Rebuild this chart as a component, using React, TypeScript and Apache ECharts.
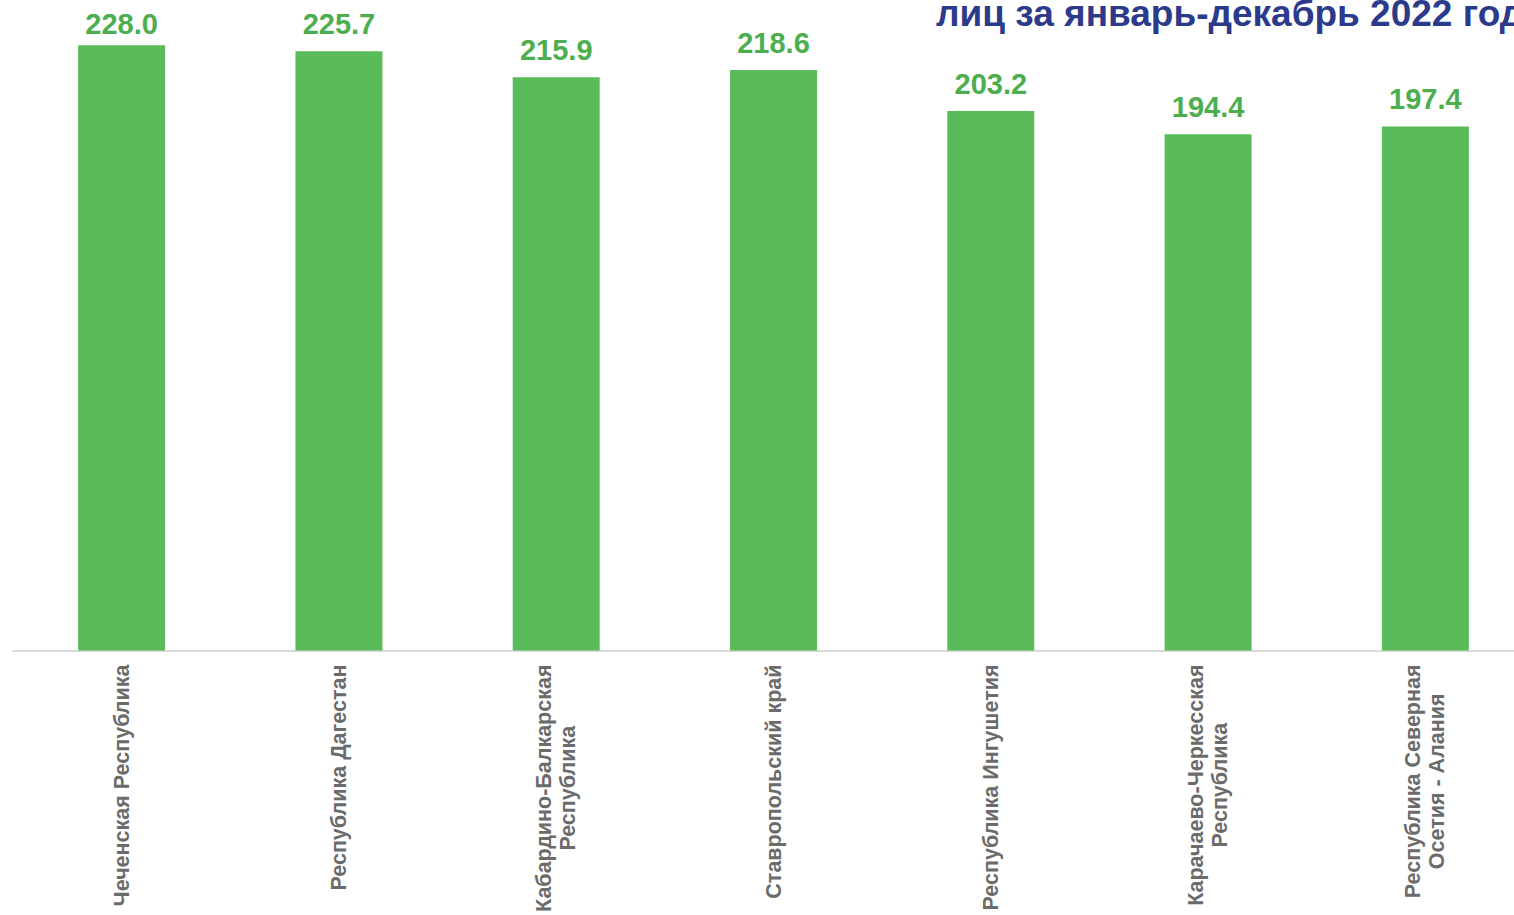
import React, { useEffect, useRef } from "react";
import * as echarts from "echarts";

const categories: string[] = [
  "Чеченская Республика",
  "Республика Дагестан",
  "Кабардино-Балкарская\nРеспублика",
  "Ставропольский край",
  "Республика Ингушетия",
  "Карачаево-Черкесская\nРеспублика",
  "Республика Северная\nОсетия - Алания",
];

const values: number[] = [228.0, 225.7, 215.9, 218.6, 203.2, 194.4, 197.4];

const titleText = "лиц за январь-декабрь 2022 года";

const FONT = "Arial, 'Liberation Sans', Helvetica, sans-serif";

const Y_MAX = 245;
const PLOT_TOP = 0;
const PLOT_H = 657;
const LABEL_GAP = 12.5;
const LABEL_MIN_BOTTOM = 39;

export default function App() {
  const ref = useRef<HTMLDivElement>(null);

  useEffect(() => {
    if (!ref.current) return;
    const chart = echarts.init(ref.current, undefined, { renderer: "svg" });
    const data = values.map((v) => {
      const barTop = PLOT_TOP + PLOT_H * (1 - v / Y_MAX);
      const bottom = Math.max(barTop - LABEL_GAP, LABEL_MIN_BOTTOM);
      return { value: v, label: { distance: barTop - bottom } };
    });
    chart.setOption({
      animation: false,
      backgroundColor: "#ffffff",
      grid: { left: 13, right: 0, top: PLOT_TOP, bottom: 915 - PLOT_TOP - PLOT_H, containLabel: false },
      xAxis: {
        type: "category",
        data: categories,
        axisLine: { show: true, lineStyle: { color: "#d9d9d9", width: 2 } },
        axisTick: { show: false },
        axisLabel: {
          interval: 0,
          rotate: 90,
          margin: 14,
          formatter: (v: string) =>
            v
              .split("\n")
              .map((l) => `{c|${l}}`)
              .join("\n"),
          rich: {
            c: {
              align: "center",
              fontSize: 21.5,
              fontWeight: "bold",
              color: "#6b6b6b",
              fontFamily: FONT,
              lineHeight: 24,
            },
          },
        },
      },
      yAxis: {
        type: "value",
        min: 0,
        max: Y_MAX,
        show: false,
        splitLine: { show: false },
      },
      series: [
        {
          type: "bar",
          data,
          barWidth: 87,
          itemStyle: { color: "#59bb59" },
          label: {
            show: true,
            position: "top",
            formatter: (p: any) => Number(p.value).toFixed(1),
            fontSize: 29,
            fontWeight: "bold",
            color: "#4cae4f",
            fontFamily: FONT,
          },
        },
      ],
      graphic: [
        {
          type: "text",
          x: 936,
          y: 13,
          style: {
            text: titleText,
            font: `bold 37px ${FONT}`,
            fill: "#2b3a8a",
            textAlign: "left",
            verticalAlign: "middle",
          },
        },
      ],
    });
    return () => chart.dispose();
  }, []);

  return (
    <div
      style={{
        position: "absolute",
        left: 0,
        top: 0,
        width: 1514,
        height: 915,
        overflow: "hidden",
        background: "#ffffff",
      }}
    >
      <div ref={ref} style={{ width: 1534, height: 915 }} />
    </div>
  );
}
